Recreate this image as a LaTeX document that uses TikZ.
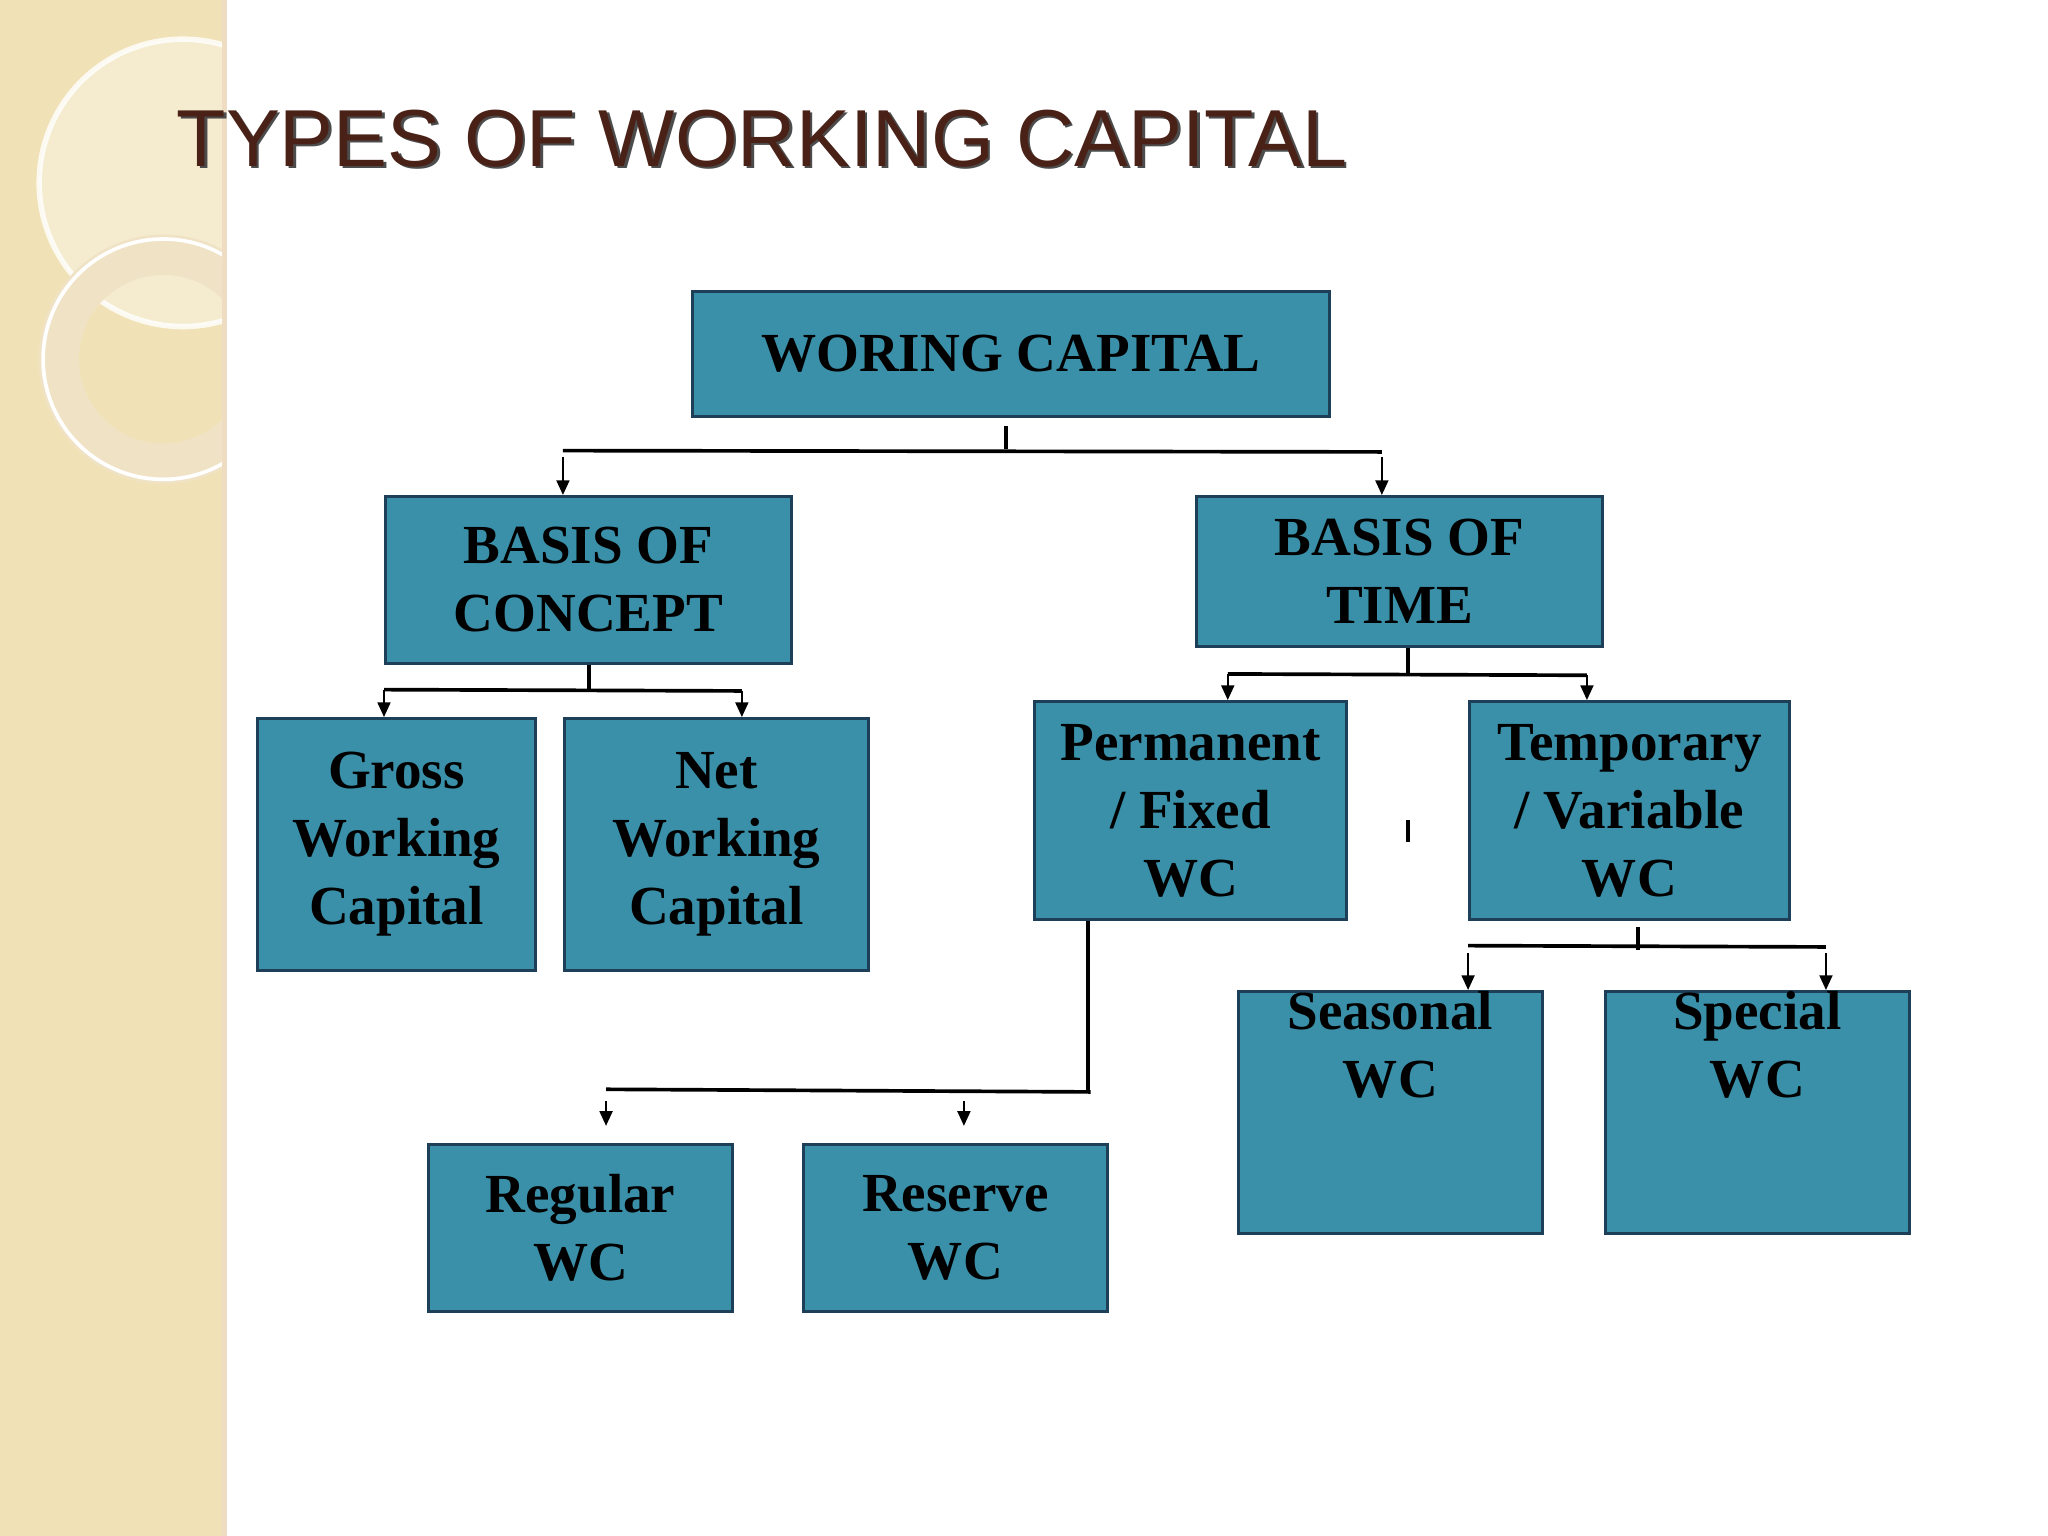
\documentclass[tikz,border=0pt]{standalone}
\usepackage{fontspec}
\setmainfont{Liberation Serif}
\newfontfamily\titlefont{Liberation Sans}
\usetikzlibrary{arrows.meta}
\definecolor{boxfill}{HTML}{3A90A9}
\definecolor{boxline}{HTML}{1E3F58}
\definecolor{beige}{HTML}{F0E2B6}
\definecolor{ttl}{HTML}{4A2116}
\tikzset{
 wcbox/.style={draw=boxline,line width=1.5pt,fill=boxfill,align=center,
   font=\bfseries\fontsize{30}{37}\selectfont,inner sep=0pt},
 conn/.style={line width=2pt,black},
 arr/.style={line width=1.2pt,-{Triangle[length=8pt,width=7pt]}}
}
\newcommand{\bx}[6]{\node[wcbox,minimum width=#4*0.025cm-1.5pt,minimum height=#5*0.025cm-1.5pt,anchor=north west] (#1) at (#2,#3) {#6};}
\begin{document}
\begin{tikzpicture}[x=0.025cm,y=-0.025cm]
\useasboundingbox (0,0) rectangle (1568,1176);
\fill[white] (0,0) rectangle (1568,1176);
\fill[beige] (0,0) rectangle (173,1176);
\begin{scope}
\clip (0,0) rectangle (173,1176);
\fill[white,opacity=0.35] (140,140) circle (110);
\draw[white,line width=3pt,opacity=0.8] (140,140) circle (110);
\draw[line width=22pt,color=beige!80!brown!60] (125,275) circle (80);
\draw[white,line width=2pt] (125,275) circle (92);
\end{scope}
\fill[beige!60!brown!50] (170,0) rectangle (174,1176);
\node[anchor=west,font=\titlefont\fontsize{44}{50}\selectfont,text=black!70,inner sep=0pt] at (137,108) {TYPES OF WORKING CAPITAL};
\node[anchor=west,font=\titlefont\fontsize{44}{50}\selectfont,text=ttl,inner sep=0pt] (title) at (135,106) {TYPES OF WORKING CAPITAL};

\bx{wc}{529}{222}{490}{98}{WORING CAPITAL}
\bx{bc}{294}{379}{313}{130}{BASIS OF\\CONCEPT}
\bx{bt}{915}{379}{313}{117}{BASIS OF\\TIME}
\bx{gross}{196}{549}{215}{195}{Gross\\Working\\Capital}
\bx{net}{431}{549}{235}{195}{Net\\Working\\Capital}
\bx{perm}{791}{536}{241}{169}{Permanent\\/ Fixed\\WC}
\bx{temp}{1124}{536}{247}{169}{Temporary\\/ Variable\\WC}
\bx{seas}{947}{758}{235}{156}{Seasonal\\WC\\[1.3cm]}
\bx{spec}{1228}{758}{235}{156}{Special\\WC\\[1.3cm]}
\bx{reg}{327}{875}{235}{130}{Regular\\WC}
\bx{res}{614}{875}{235}{130}{Reserve\\WC}

% WC
\draw[conn] (770,326) -- (770,344);
\draw[conn] (431,345) -- (1058,346);
\draw[arr] (431,350) -- (bc.north -| 431,0);
\draw[arr] (1058,350) -- (bt.north -| 1058,0);
% concept
\draw[conn] (bc.south -| 451,0) -- (451,528);
\draw[conn] (294,528) -- (568,529);
\draw[arr] (294,528) -- (gross.north -| 294,0);
\draw[arr] (568,529) -- (net.north -| 568,0);
% time
\draw[conn] (bt.south -| 1078,0) -- (1078,516);
\draw[conn] (940,516) -- (1215,517);
\draw[arr] (940,516) -- (perm.north -| 940,0);
\draw[arr] (1215,517) -- (temp.north -| 1215,0);
\draw[conn] (1078,628) -- (1078,645);
% temporary
\draw[conn] (1254,710) -- (1254,727);
\draw[conn] (1124,724) -- (1398,725);
\draw[arr] (1124,730) -- (seas.north -| 1124,0);
\draw[arr] (1398,730) -- (spec.north -| 1398,0);
% permanent
\draw[conn] (perm.south -| 833,0) -- (833,835);
\draw[conn] (464,834) -- (835,836);
\draw[arr] (464,843) -- (464,862);
\draw[arr] (738,843) -- (738,862);
\end{tikzpicture}
\end{document}
